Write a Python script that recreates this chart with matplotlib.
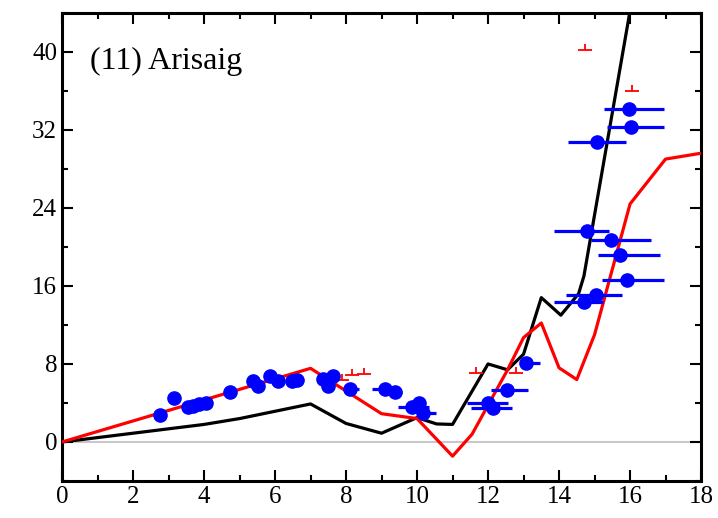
import matplotlib.pyplot as plt
import numpy as np
from matplotlib.path import Path
from matplotlib.ticker import MultipleLocator

plt.rcParams['font.family'] = ['Liberation Serif', 'DejaVu Serif']

# model curves
black_x = [0, 4, 5, 7, 8, 9, 10, 10.55, 11, 12, 12.55, 13, 13.5, 14.05, 14.55, 14.7, 16, 17]
black_y = [0, 1.8, 2.4, 3.9, 1.9, 0.9, 2.5, 1.85, 1.8, 8.0, 7.4, 9.0, 14.8, 13.0, 15.2, 17.0, 44.2, 65]

red_x = [0, 7, 9, 10, 11, 11.55, 12.55, 13, 13.5, 14, 14.5, 15, 16, 17, 18]
red_y = [0, 7.55, 2.9, 2.4, -1.45, 0.8, 7.4, 10.7, 12.2, 7.6, 6.4, 11.0, 24.4, 29.0, 29.6]

# observations (x, y, left error, right error)
obs_x = [2.76, 3.14, 3.56, 3.7, 3.85, 4.05, 4.73, 5.39, 5.53, 5.86, 6.09, 6.47, 6.61,
         7.36, 7.5, 7.64, 8.11, 9.1, 9.38, 9.85, 10.06, 10.18,
         12.0, 12.13, 12.53, 13.06,
         14.7, 15.03, 15.92, 15.73, 15.46, 14.8, 15.08, 16.02, 15.97]
obs_y = [2.8, 4.5, 3.6, 3.7, 3.9, 4.0, 5.1, 6.3, 5.7, 6.8, 6.3, 6.3, 6.4,
         6.5, 5.7, 6.8, 5.4, 5.4, 5.1, 3.6, 4.0, 3.0,
         4.0, 3.5, 5.3, 8.1,
         14.3, 15.1, 16.6, 19.2, 20.7, 21.6, 30.8, 32.3, 34.1]
obs_xlo = [0.05, 0.1, 0.1, 0.1, 0.1, 0.1, 0.1, 0.1, 0.1, 0.1, 0.1, 0.15, 0.1,
           0.15, 0.1, 0.1, 0.1, 0.38, 0.2, 0.38, 0.2, 0.1,
           0.6, 0.6, 0.45, 0.15,
           0.85, 0.83, 0.7, 0.62, 0.55, 0.95, 0.82, 0.68, 0.7]
obs_xhi = [0.05, 0.1, 0.1, 0.1, 0.1, 0.1, 0.1, 0.2, 0.1, 0.1, 0.1, 0.1, 0.1,
           0.1, 0.1, 0.1, 0.25, 0.2, 0.2, 0.5, 0.1, 0.35,
           0.57, 0.55, 0.6, 0.4,
           0.55, 0.75, 1.05, 1.12, 1.12, 0.6, 0.8, 0.95, 1.0]

# upper limits
lim_x = [7.88, 8.16, 8.5, 11.66, 12.8, 14.73, 16.05]
lim_y = [6.4, 6.9, 7.0, 7.05, 7.05, 40.2, 36.0]

fig = plt.figure(figsize=(7.18, 5.18), dpi=100)
ax = fig.add_axes([0.0864, 0.0714, 0.890, 0.904])

ax.axhline(0, color='#c8c8c8', lw=1.5, zorder=1)
ax.plot(black_x, black_y, color='black', lw=2.3, zorder=3)
ax.plot(red_x, red_y, color='red', lw=2.3, zorder=3)
ax.errorbar(obs_x, obs_y, xerr=[obs_xlo, obs_xhi], fmt='o', color='blue',
            ms=9.5, elinewidth=2.3, capsize=0, zorder=4)

perp = Path([(-1, 0), (1, 0), (0, 0), (0, 0.9)],
            [Path.MOVETO, Path.LINETO, Path.MOVETO, Path.LINETO])
ax.plot(lim_x, lim_y, ls='none', marker=perp, ms=10, mew=1.3,
        mec='red', color='red', zorder=4)

ax.text(0.044, 0.895, '(11) Arisaig', transform=ax.transAxes, fontsize=23,
        va='center', ha='left')

ax.set_xlim(0, 18)
ax.set_ylim(-4, 44)
ax.xaxis.set_major_locator(MultipleLocator(2))
ax.xaxis.set_minor_locator(MultipleLocator(1))
ax.yaxis.set_major_locator(MultipleLocator(8))
ax.yaxis.set_minor_locator(MultipleLocator(4))
ax.tick_params(which='both', direction='in', top=True, right=True, width=1.5,
               labelsize=18)
ax.tick_params(which='major', length=8)
ax.tick_params(which='minor', length=4)
for s in ax.spines.values():
    s.set_linewidth(2.2)

fig.savefig('out.png', dpi=100)
